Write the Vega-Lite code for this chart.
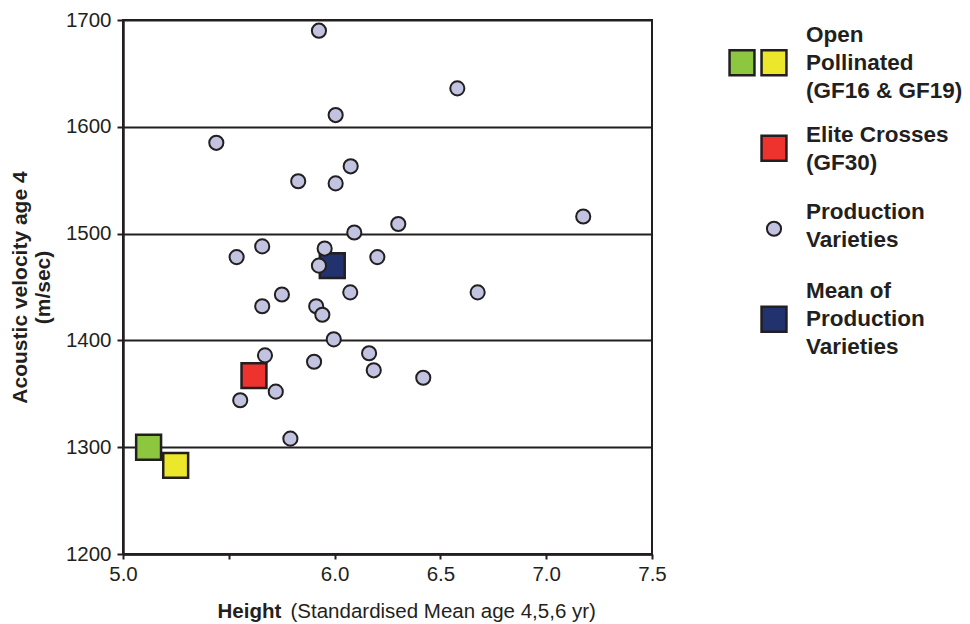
{
  "$schema": "https://vega.github.io/schema/vega-lite/v6.json",
  "padding": {"left": 8, "top": 9, "right": 0, "bottom": 0},
  "bounds": "flush",
  "spacing": 90,
  "background": "white",
  "config": {
    "font": "Liberation Sans",
    "view": {"stroke": null}
  },
  "datasets": {
    "points": [
      {"height": 5.121, "velocity": 1300, "group": "GF16"},
      {"height": 5.249, "velocity": 1283, "group": "GF19"},
      {"height": 5.619, "velocity": 1367, "group": "GF30"},
      {"height": 5.989, "velocity": 1470, "group": "Mean"},
      {"height": 5.926, "velocity": 1690, "group": "Production"},
      {"height": 6.580, "velocity": 1636, "group": "Production"},
      {"height": 6.005, "velocity": 1611, "group": "Production"},
      {"height": 5.441, "velocity": 1585, "group": "Production"},
      {"height": 6.076, "velocity": 1563, "group": "Production"},
      {"height": 5.828, "velocity": 1549, "group": "Production"},
      {"height": 6.005, "velocity": 1547, "group": "Production"},
      {"height": 7.175, "velocity": 1516, "group": "Production"},
      {"height": 6.301, "velocity": 1509, "group": "Production"},
      {"height": 6.093, "velocity": 1501, "group": "Production"},
      {"height": 5.658, "velocity": 1488, "group": "Production"},
      {"height": 5.953, "velocity": 1486, "group": "Production"},
      {"height": 5.537, "velocity": 1478, "group": "Production"},
      {"height": 6.202, "velocity": 1478, "group": "Production"},
      {"height": 5.926, "velocity": 1470, "group": "Production"},
      {"height": 6.676, "velocity": 1445, "group": "Production"},
      {"height": 6.074, "velocity": 1445, "group": "Production"},
      {"height": 5.751, "velocity": 1443, "group": "Production"},
      {"height": 5.658, "velocity": 1432, "group": "Production"},
      {"height": 5.913, "velocity": 1432, "group": "Production"},
      {"height": 5.942, "velocity": 1424, "group": "Production"},
      {"height": 5.996, "velocity": 1401, "group": "Production"},
      {"height": 6.163, "velocity": 1388, "group": "Production"},
      {"height": 5.671, "velocity": 1386, "group": "Production"},
      {"height": 5.903, "velocity": 1380, "group": "Production"},
      {"height": 6.185, "velocity": 1372, "group": "Production"},
      {"height": 6.419, "velocity": 1365, "group": "Production"},
      {"height": 5.722, "velocity": 1352, "group": "Production"},
      {"height": 5.554, "velocity": 1344, "group": "Production"},
      {"height": 5.791, "velocity": 1308, "group": "Production"}
    ],
    "legendSymbols": [
      {"item": "open", "slot": "a", "kind": "GF16"},
      {"item": "open", "slot": "b", "kind": "GF19"},
      {"item": "elite", "slot": "b", "kind": "GF30"},
      {"item": "prod", "slot": "b", "kind": "Production"},
      {"item": "mean", "slot": "b", "kind": "Mean"}
    ],
    "legendText": [
      {"item": "open", "slot": "c", "label": "Open\nPollinated\n(GF16 & GF19)"},
      {"item": "elite", "slot": "c", "label": "Elite Crosses\n(GF30)"},
      {"item": "prod", "slot": "c", "label": "Production\nVarieties"},
      {"item": "mean", "slot": "c", "label": "Mean of\nProduction\nVarieties"}
    ]
  },
  "hconcat": [
    {
      "width": 529,
      "height": 534,
      "view": {"stroke": "#231f20", "strokeWidth": 2},
      "layer": [
        {
          "data": {"name": "points"},
          "transform": [{"filter": "datum.group != 'Production'"}],
          "mark": {"type": "square", "size": 620, "stroke": "#231f20", "strokeWidth": 2.5, "opacity": 1},
          "encoding": {
            "x": {
              "field": "height", "type": "quantitative",
              "scale": {"domain": [5, 7.5], "nice": false, "zero": false},
              "axis": {
                "values": [5, 5.5, 6, 6.5, 7, 7.5],
                "labelExpr": "datum.value == 5.5 ? '' : format(datum.value, '.1f')",
                "grid": false,
                "domainColor": "#231f20", "domainWidth": 2.5,
                "tickColor": "#231f20", "tickWidth": 2, "tickSize": 5,
                "labelFontSize": 20.5, "labelColor": "#231f20", "labelPadding": 5,
                "labelFlush": false,
                "title": "Height",
                "titleFontSize": 20.5, "titleFontWeight": "bold", "titleColor": "#231f20",
                "titleAnchor": "start", "titleAlign": "left", "titleBaseline": "alphabetic",
                "titleX": 94, "titleY": 63
              }
            },
            "y": {
              "field": "velocity", "type": "quantitative",
              "scale": {"domain": [1200, 1700], "nice": false, "zero": false},
              "axis": {
                "title": ["Acoustic velocity age 4", "(m/sec)"],
                "values": [1200, 1300, 1400, 1500, 1600, 1700],
                "format": "d",
                "grid": true, "gridColor": "#231f20", "gridWidth": 2, "gridOpacity": 1,
                "domainColor": "#231f20", "domainWidth": 2.5,
                "tickColor": "#231f20", "tickWidth": 2, "tickSize": 6,
                "labelFontSize": 20.5, "labelColor": "#231f20", "labelPadding": 6,
                "labelFlush": false,
                "titleFontSize": 21, "titleFontWeight": "bold", "titleColor": "#231f20",
                "titleLineHeight": 23, "titlePadding": 12
              }
            },
            "color": {
              "field": "group", "type": "nominal",
              "scale": {"domain": ["GF16", "GF19", "GF30", "Production", "Mean"], "range": ["#8dc63f", "#ece72a", "#ee322d", "#c1c3e1", "#22326e"]},
              "legend": null
            }
          }
        },
        {
          "data": {"name": "points"},
          "transform": [{"filter": "datum.group == 'Production'"}],
          "mark": {"type": "circle", "size": 200, "stroke": "#231f20", "strokeWidth": 2, "opacity": 1},
          "encoding": {
            "x": {
              "field": "height", "type": "quantitative",
              "axis": {
                "orient": "bottom",
                "labels": false, "ticks": false, "domain": false, "grid": false,
                "title": "(Standardised Mean age 4,5,6 yr)",
                "titleFontSize": 20.5, "titleFontWeight": "normal", "titleColor": "#231f20",
                "titleAnchor": "start", "titleAlign": "left", "titleBaseline": "alphabetic",
                "titleX": 167, "titleY": 63
              }
            },
            "y": {"field": "velocity", "type": "quantitative"},
            "color": {"field": "group", "type": "nominal", "legend": null}
          }
        }
      ],
      "resolve": {"axis": {"x": "independent"}}
    },
    {
      "width": 64,
      "height": 342,
      "view": {"stroke": null},
      "layer": [
        {
          "data": {"name": "legendSymbols"},
          "transform": [{"filter": "datum.kind != 'Production'"}],
          "mark": {"type": "square", "size": 620, "stroke": "#231f20", "strokeWidth": 2.5, "opacity": 1},
          "encoding": {
            "x": {"field": "slot", "type": "ordinal", "scale": {"type": "point", "domain": ["a", "b", "c"], "padding": 0}, "axis": null},
            "y": {"field": "item", "type": "ordinal", "scale": {"type": "point", "domain": ["open", "elite", "prod", "mean"], "padding": 0.5}, "axis": null},
            "color": {"field": "kind", "type": "nominal", "legend": null}
          }
        },
        {
          "data": {"name": "legendSymbols"},
          "transform": [{"filter": "datum.kind == 'Production'"}],
          "mark": {"type": "circle", "size": 200, "stroke": "#231f20", "strokeWidth": 2, "opacity": 1, "yOffset": -5},
          "encoding": {
            "x": {"field": "slot", "type": "ordinal", "axis": null},
            "y": {"field": "item", "type": "ordinal", "axis": null},
            "color": {"field": "kind", "type": "nominal", "legend": null}
          }
        },
        {
          "data": {"name": "legendText"},
          "transform": [{"filter": "datum.item == 'open' || datum.item == 'mean'"}],
          "mark": {"type": "text", "align": "left", "baseline": "middle", "lineBreak": "\n", "lineHeight": 28, "fontSize": 22.5, "fontWeight": "bold", "color": "#231f20", "dy": -28},
          "encoding": {
            "x": {"field": "slot", "type": "ordinal", "axis": null},
            "y": {"field": "item", "type": "ordinal", "axis": null},
            "text": {"field": "label"}
          }
        },
        {
          "data": {"name": "legendText"},
          "transform": [{"filter": "datum.item == 'elite'"}],
          "mark": {"type": "text", "align": "left", "baseline": "middle", "lineBreak": "\n", "lineHeight": 28, "fontSize": 22.5, "fontWeight": "bold", "color": "#231f20", "dy": -13},
          "encoding": {
            "x": {"field": "slot", "type": "ordinal", "axis": null},
            "y": {"field": "item", "type": "ordinal", "axis": null},
            "text": {"field": "label"}
          }
        },
        {
          "data": {"name": "legendText"},
          "transform": [{"filter": "datum.item == 'prod'"}],
          "mark": {"type": "text", "align": "left", "baseline": "middle", "lineBreak": "\n", "lineHeight": 28, "fontSize": 22.5, "fontWeight": "bold", "color": "#231f20", "dy": -22},
          "encoding": {
            "x": {"field": "slot", "type": "ordinal", "axis": null},
            "y": {"field": "item", "type": "ordinal", "axis": null},
            "text": {"field": "label"}
          }
        }
      ]
    }
  ]
}
